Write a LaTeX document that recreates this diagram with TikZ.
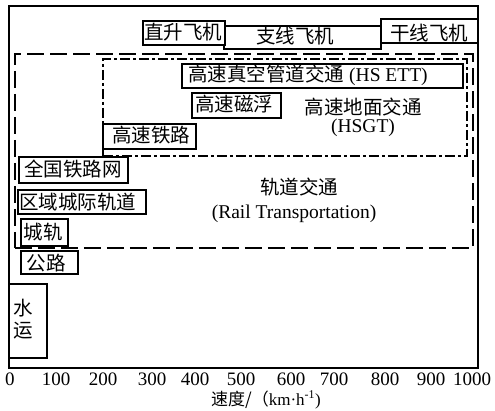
\documentclass[tikz,border=0pt]{standalone}
\usepackage{fontspec}
\setmainfont{Liberation Serif}
\newfontfamily\cjk{Noto Sans CJK SC}
\begin{document}
\begin{tikzpicture}[x=1pt,y=-1pt,
  box/.style={draw, line width=1.5pt, inner sep=0pt, anchor=north west},
  lbl/.style={inner sep=0pt, font=\fontsize{19.5}{22}\selectfont},
  tick/.style={inner sep=0pt, text height=12.5pt, text depth=0pt, anchor=base, font=\fontsize{19}{22}\selectfont},
  railbox/.style={box, dash pattern=on 17pt off 6pt},
  hsgtbox/.style={box, dash pattern=on 10pt off 3pt on 3pt off 3pt}]
\useasboundingbox (0,0) rectangle (495,410);
% frame
\node[box, line width=1.8pt, minimum width=469pt, minimum height=362pt] (frame) at (8,5) {};
% aircraft
\node[box, minimum width=157pt, minimum height=23pt] (zx) at (223,25) {};
\node[box, minimum width=97pt, minimum height=24pt] (gx) at (380,18) {};
\node[box, fill=white, minimum width=82pt, minimum height=24pt] (zs) at (142,20) {};
\node[lbl] (zs-t) at (183,32) {\cjk 直升飞机};
\node[lbl] (zx-t) at (295,36) {\cjk 支线飞机};
\node[lbl] (gx-t) at (429,33) {\cjk 干线飞机};
% rail transportation region
\node[railbox, minimum width=458pt, minimum height=194pt] (rail) at (14,53) {};
\node[hsgtbox, minimum width=364pt, minimum height=97pt] (hsgt) at (102,58) {};
\node[box, minimum width=281pt, minimum height=24pt] (ett) at (181,63) {};
\node[lbl] (ett-t) at (308,75) {{\cjk 高速真空管道交通} (HS ETT)};
\node[box, minimum width=89pt, minimum height=25pt] (mag) at (191,92) {};
\node[lbl] (mag-t) at (234,104) {\cjk 高速磁浮};
\node[lbl] (hsgt-t1) at (363,107) {\cjk 高速地面交通};
\node[lbl] (hsgt-t2) at (363,128) {(HSGT)};
\node[box, minimum width=93pt, minimum height=25pt] (hsr) at (102,123) {};
\node[lbl] (hsr-t) at (151,135) {\cjk 高速铁路};
\node[box, minimum width=109pt, minimum height=26pt] (qg) at (18,156) {};
\node[lbl] (qg-t) at (73,169) {\cjk 全国铁路网};
\node[box, minimum width=128pt, minimum height=24pt] (qy) at (17,189) {};
\node[lbl] (qy-t) at (78,202) {\cjk 区域城际轨道};
\node[box, minimum width=47pt, minimum height=27pt] (cg) at (20,218) {};
\node[lbl] (cg-t) at (43,232) {\cjk 城轨};
\node[lbl] (rail-t1) at (299,187) {\cjk 轨道交通};
\node[lbl] (rail-t2) at (294,214) {(Rail Transportation)};
% road and water
\node[box, minimum width=57pt, minimum height=23pt] (gl) at (20,250) {};
\node[lbl] (gl-t) at (46,263) {\cjk 公路};
\node[box, minimum width=38pt, minimum height=74pt] (sy) at (8,283) {};
\node[lbl] (sy-t1) at (23,308) {\cjk 水};
\node[lbl] (sy-t2) at (23,331) {\cjk 运};
% axis labels
\node[tick] (v0) at (10,385) {0};
\node[tick] (v1) at (56,385) {100};
\node[tick] (v2) at (103,385) {200};
\node[tick] (v3) at (152,385) {300};
\node[tick] (v4) at (195,385) {400};
\node[tick] (v5) at (241,385) {500};
\node[tick] (v6) at (291,385) {600};
\node[tick] (v7) at (334,385) {700};
\node[tick] (v8) at (385,385) {800};
\node[tick] (v9) at (431,385) {900};
\node[tick] (v10) at (472,385) {1000};
\node[inner sep=0pt, anchor=base, text height=12pt, text depth=3pt, font=\fontsize{17}{19}\selectfont] (axis-t) at (266,405) {{\cjk 速度/（}km·h\textsuperscript{-1})};
\end{tikzpicture}
\end{document}
